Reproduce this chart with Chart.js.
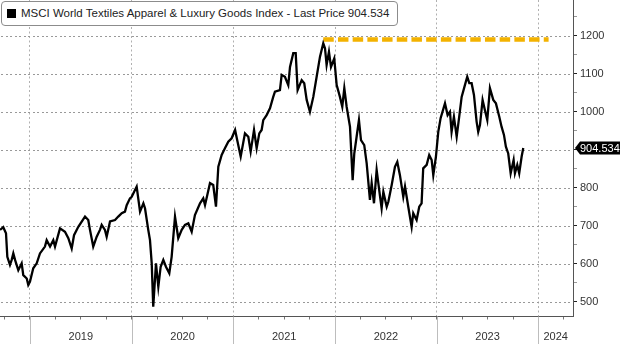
<!DOCTYPE html>
<html>
<head>
<meta charset="utf-8">
<script src="https://cdn.jsdelivr.net/npm/chart.js@4.4.1/dist/chart.umd.min.js"></script>
<style>
  html, body { margin: 0; padding: 0; background: #fff; }
  #wrap { position: relative; width: 620px; height: 344px; }
  #legend {
    position: absolute; left: 1px; top: 1px; height: 23px;
    border: 1px solid #8c8c8c; border-radius: 4px; background: #fff;
    font: 11.5px "Liberation Sans", Arial, sans-serif; color: #222;
    padding: 0 8px 0 5px; line-height: 23px; white-space: nowrap;
  }
  #legend i { display: inline-block; width: 9px; height: 9px; background: #000; vertical-align: -1px; margin-right: 5px; }
</style>
</head>
<body>
<div id="wrap">
  <canvas id="chart" width="620" height="344"></canvas>
  <div id="legend"><i></i>MSCI World Textiles Apparel &amp; Luxury Goods Index - Last Price 904.534</div>
</div>
<script>
// decimal years and index levels
const dates = [
  2018.705, 2018.737, 2018.764, 2018.777, 2018.803, 2018.820, 2018.836, 2018.853, 2018.885, 2018.918,
  2018.934, 2018.968, 2018.983, 2019.000, 2019.032, 2019.066, 2019.098, 2019.147, 2019.164, 2019.197,
  2019.229, 2019.246, 2019.295, 2019.344, 2019.377, 2019.410, 2019.433, 2019.475, 2019.541, 2019.573,
  2019.590, 2019.622, 2019.656, 2019.688, 2019.705, 2019.737, 2019.754, 2019.787, 2019.836, 2019.868,
  2019.902, 2019.934, 2019.951, 2019.983, 2020.000, 2020.016, 2020.049, 2020.082, 2020.115, 2020.131,
  2020.163, 2020.180, 2020.197, 2020.212, 2020.239, 2020.262, 2020.285, 2020.311, 2020.337, 2020.370,
  2020.393, 2020.426, 2020.458, 2020.492, 2020.524, 2020.557, 2020.590, 2020.622, 2020.672, 2020.704,
  2020.721, 2020.770, 2020.802, 2020.829, 2020.852, 2020.885, 2020.917, 2020.950, 2020.983, 2021.017,
  2021.038, 2021.072, 2021.114, 2021.147, 2021.170, 2021.203, 2021.229, 2021.255, 2021.278, 2021.294,
  2021.327, 2021.360, 2021.392, 2021.409, 2021.458, 2021.475, 2021.507, 2021.540, 2021.557, 2021.589,
  2021.613, 2021.632, 2021.672, 2021.697, 2021.721, 2021.753, 2021.786, 2021.819, 2021.852, 2021.884,
  2021.901, 2021.917, 2021.940, 2021.960, 2021.992, 2022.016, 2022.048, 2022.071, 2022.091, 2022.114,
  2022.147, 2022.173, 2022.189, 2022.212, 2022.235, 2022.255, 2022.287, 2022.311, 2022.343, 2022.360,
  2022.383, 2022.409, 2022.441, 2022.458, 2022.475, 2022.508, 2022.524, 2022.557, 2022.589, 2022.612,
  2022.638, 2022.671, 2022.688, 2022.720, 2022.753, 2022.769, 2022.802, 2022.828, 2022.851, 2022.867,
  2022.901, 2022.926, 2022.950, 2022.966, 2022.992, 2023.015, 2023.038, 2023.081, 2023.107, 2023.130,
  2023.146, 2023.169, 2023.196, 2023.221, 2023.245, 2023.277, 2023.300, 2023.320, 2023.343, 2023.366,
  2023.392, 2023.408, 2023.425, 2023.451, 2023.474, 2023.497, 2023.523, 2023.556, 2023.582, 2023.615,
  2023.638, 2023.661, 2023.680, 2023.703, 2023.727, 2023.756, 2023.769, 2023.792, 2023.811, 2023.835,
  2023.851
];
const prices = [
  689, 696, 680, 618, 597, 610, 627, 610, 583, 601,
  570, 561, 544, 553, 588, 601, 627, 645, 662, 645,
  662, 645, 693, 684, 667, 640, 675, 697, 724, 715,
  689, 645, 671, 689, 702, 689, 671, 711, 715, 724,
  733, 737, 754, 772, 776, 785, 803, 737, 759, 746,
  689, 662, 601, 487, 601, 539, 592, 610, 592, 575,
  618, 724, 667, 689, 702, 706, 684, 728, 759, 772,
  754, 812, 807, 750, 855, 886, 904, 921, 930, 952,
  925, 882, 943, 934, 895, 952, 904, 943, 952, 978,
  991, 1009, 1039, 1053, 1057, 1097, 1092, 1070, 1118, 1154,
  1154, 1057, 1083, 1075, 1031, 1000, 1039, 1092, 1145, 1180,
  1167, 1123, 1158, 1118, 1140, 1070, 1039, 1013, 1062, 1013,
  960, 820, 890, 934, 978, 925, 912, 864, 768, 812,
  759, 847, 780, 746, 789, 750, 763, 807, 855, 868,
  833, 776, 803, 750, 697, 733, 715, 750, 759, 851,
  860, 886, 873, 833, 882, 947, 983, 1022, 991, 1000,
  947, 987, 934, 987, 1039, 1070, 1092, 1075, 1075, 1044,
  974, 947, 965, 1031, 1004, 978, 1062, 1031, 1022, 987,
  960, 939, 908, 890, 838, 873, 838, 860, 838, 882,
  904.534
];
const lastPrice = 904.534;

// 2021 high marker
const highLevel = 1190;
const highSpan = [2021.884, 2024.1];

const yearLabels = ['2019', '2020', '2021', '2022', '2023', '2024'];
const yearLabelPos = [2019.5, 2020.5, 2021.5, 2022.5, 2023.5, 2024.17];
const yTicks = [500, 600, 700, 800, 900, 1000, 1100, 1200];

const X_MIN = 2018.705, X_MAX = 2024.34;
const GRID = '#999';
const AXIS = '#555';
const NONE = 'rgba(0,0,0,0)';

const series = dates.map((d, i) => ({ x: d, y: prices[i] }));

const isYear = v => Math.abs(v - Math.round(v)) < 1e-6;
const isMajorY = v => yTicks.includes(Math.round(v));

// dotted horizontal grid at the labelled levels, drawn as small dots
const levelGrid = {
  id: 'levelGrid',
  beforeDatasetsDraw(chart) {
    const { ctx, chartArea, scales: { y } } = chart;
    ctx.save();
    ctx.fillStyle = GRID;
    yTicks.forEach(v => {
      const py = Math.round(y.getPixelForValue(v));
      for (let px = chartArea.left + 1; px < chartArea.right - 1; px += 4.5) {
        ctx.fillRect(Math.round(px), py, 2, 1);
      }
    });
    ctx.restore();
  }
};

// year separators under the x axis
const yearDividers = {
  id: 'yearDividers',
  afterDraw(chart) {
    const { ctx, chartArea, scales: { x } } = chart;
    ctx.save();
    ctx.strokeStyle = '#bdbdbd';
    ctx.lineWidth = 1;
    for (let yr = 2019; yr <= 2024; yr++) {
      const px = Math.round(x.getPixelForValue(yr)) + 0.5;
      ctx.beginPath();
      ctx.moveTo(px, chartArea.bottom);
      ctx.lineTo(px, chart.height);
      ctx.stroke();
    }
    ctx.restore();
  }
};

// black last-price tag on the right axis
const priceTag = {
  id: 'priceTag',
  afterDraw(chart) {
    const { ctx, chartArea, scales: { y } } = chart;
    const py = y.getPixelForValue(lastPrice);
    const x0 = chartArea.right + 2, h = 13;
    ctx.save();
    ctx.fillStyle = '#000';
    ctx.beginPath();
    ctx.moveTo(x0, py);
    ctx.lineTo(x0 + 5, py - h / 2);
    ctx.lineTo(chart.width, py - h / 2);
    ctx.lineTo(chart.width, py + h / 2);
    ctx.lineTo(x0 + 5, py + h / 2);
    ctx.closePath();
    ctx.fill();
    ctx.fillStyle = '#fff';
    ctx.font = '11px "Liberation Sans", Arial, sans-serif';
    ctx.textBaseline = 'middle';
    ctx.fillText(lastPrice.toFixed(3), x0 + 5, py + 0.5);
    ctx.restore();
  }
};

new Chart(document.getElementById('chart'), {
  type: 'line',
  data: {
    datasets: [
      {
        data: series,
        borderColor: '#000',
        borderWidth: 2.3,
        pointRadius: 0,
        tension: 0
      },
      {
        data: highSpan.map(d => ({ x: d, y: highLevel })),
        borderColor: '#f3b200',
        borderWidth: 4.5,
        borderDash: [10.5, 4.2],
        borderCapStyle: 'butt',
        pointRadius: 0
      }
    ]
  },
  options: {
    responsive: false,
    animation: false,
    layout: { padding: 0 },
    plugins: { legend: { display: false }, tooltip: { enabled: false } },
    scales: {
      x: {
        type: 'linear',
        min: X_MIN,
        max: X_MAX,
        afterBuildTicks: scale => {
          const vals = [];
          for (let q = 2018.75; q <= X_MAX; q += 0.25) vals.push(Math.round(q * 100) / 100);
          vals.push(2024.17);
          vals.sort((a, b) => a - b);
          scale.ticks = vals.map(v => ({ value: v }));
        },
        afterFit: scale => {
          scale.height = 27.5;
          scale.paddingLeft = 0;
          scale.paddingRight = 0;
        },
        ticks: {
          autoSkip: false,
          maxRotation: 0,
          padding: 11,
          color: '#333',
          font: { family: '"Liberation Sans", Arial, sans-serif', size: 11 },
          callback: v => {
            const i = yearLabelPos.findIndex(p => Math.abs(p - v) < 1e-6);
            return i >= 0 ? yearLabels[i] : '';
          }
        },
        grid: {
          color: c => (c.tick && isYear(c.tick.value) ? '#b0b0b0' : NONE),
          tickColor: c => (c.tick && Math.abs(c.tick.value - 2024.17) < 1e-6 ? NONE : '#777'),
          tickLength: 3,
          lineWidth: 1
        },
        border: { display: true, color: AXIS, width: 1, dash: [2, 2.5] }
      },
      y: {
        position: 'right',
        min: 461,
        max: 1294,
        afterBuildTicks: scale => {
          const vals = [];
          for (let v = 500; v <= 1250; v += 50) vals.push(v);
          scale.ticks = vals.map(v => ({ value: v }));
        },
        afterFit: scale => {
          scale.width = 47;
          scale.paddingTop = 0;
          scale.paddingBottom = 0;
        },
        ticks: {
          padding: 3,
          color: '#333',
          font: { family: '"Liberation Sans", Arial, sans-serif', size: 11 },
          callback: v => (isMajorY(v) ? String(v) : '')
        },
        grid: {
          color: NONE,
          tickColor: c => (c.tick && isMajorY(c.tick.value) ? '#222' : '#999'),
          tickLength: 4,
          lineWidth: 1
        },
        border: { display: true, color: AXIS, width: 1 }
      }
    }
  },
  plugins: [levelGrid, yearDividers, priceTag]
});
</script>
</body>
</html>
